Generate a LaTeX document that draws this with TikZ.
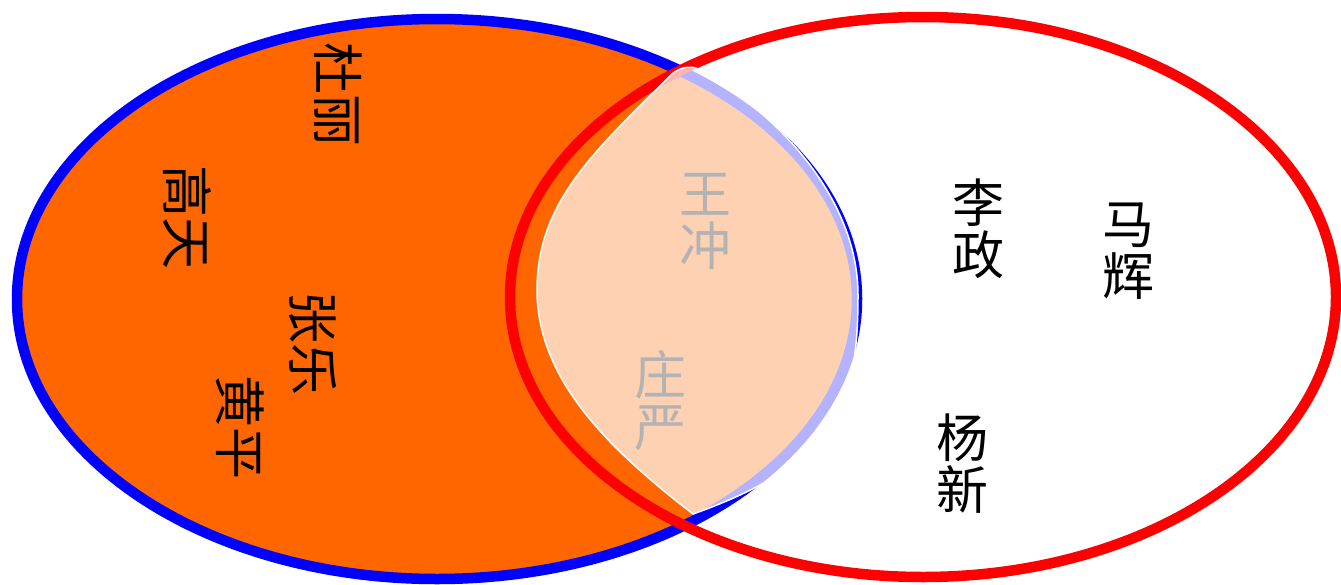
\documentclass[tikz,border=0pt]{standalone}
\usepackage{fontspec}
\newfontfamily\cjk{Noto Sans CJK SC}
\definecolor{setorange}{HTML}{FF6600}
\begin{document}
\begin{tikzpicture}[x=1pt,y=-1pt,
  person/.style={font=\cjk\fontsize{52}{52}\selectfont, align=center, inner sep=0pt},
  sideperson/.style={person, rotate=-90}]
\useasboundingbox (0,0) rectangle (1341,584);
\path[draw=blue,fill=setorange,line width=10.5pt] (437,299) ellipse [x radius=420, y radius=280];
\path[draw=red,line width=10.5pt] (923,297) ellipse [x radius=413, y radius=280];

\node[sideperson] (du) at (338,94) {杜丽};
\node[sideperson] (gao) at (187,217) {高天};
\node[sideperson] (zhang) at (313,343) {张乐};
\node[sideperson] (huang) at (240,427) {黄平};
\node[person] (wang) at (705,221) {王\\冲};
\node[person] (zhuang) at (660,401) {庄\\严};

% overlap
\path[fill=white,fill opacity=0.7,draw=white,line width=1.5pt]
  (668,78) .. controls (590,155) and (537,205) .. (537,290)
  .. controls (537,380) and (610,450) .. (693,514)
  .. controls (840,462) and (858,400) .. (858,295)
  .. controls (858,200) and (780,115) .. (700,70)
  .. controls (690,64) and (676,68) .. (668,78) -- cycle;

\node[person] (li) at (978,229) {李\\政};
\node[person] (ma) at (1128,251) {马\\辉};
\node[person] (yang) at (962,464) {杨\\新};
\end{tikzpicture}
\end{document}
